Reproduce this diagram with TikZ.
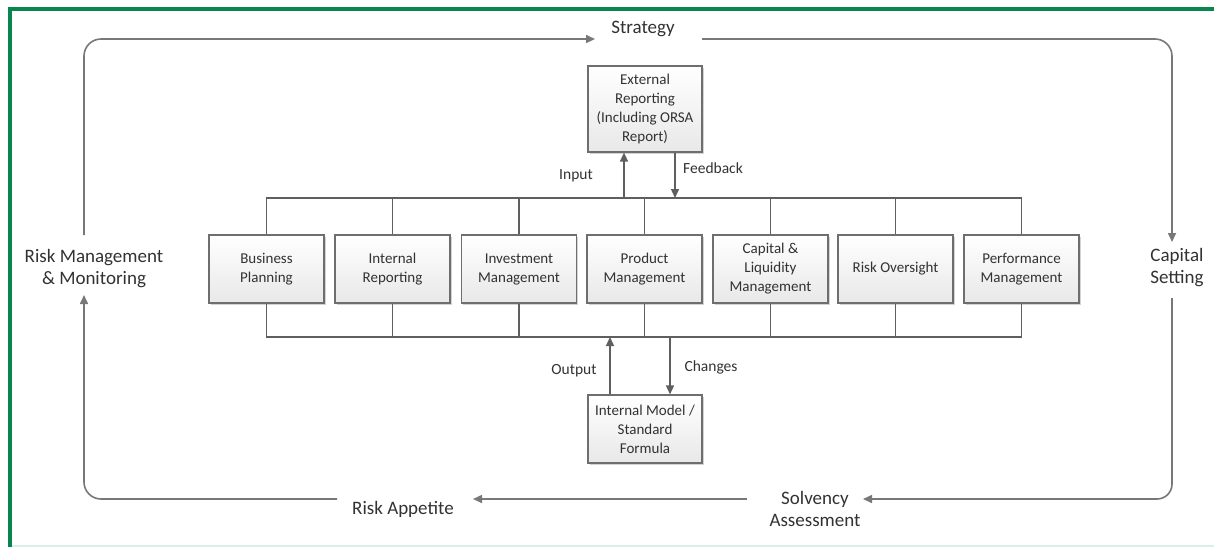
\documentclass[tikz,border=0pt]{standalone}
\usepackage{fontspec}
\setmainfont{Carlito}
\usetikzlibrary{arrows.meta,shadows}
\definecolor{frameg}{RGB}{8,134,78}
\definecolor{botc}{RGB}{214,240,234}
\definecolor{linec}{RGB}{95,95,95}
\definecolor{loopc}{RGB}{120,120,120}
\definecolor{txtc}{RGB}{50,50,50}
\definecolor{boxb}{RGB}{110,110,110}
\tikzset{
 fbox/.style={draw=boxb, line width=1.2pt, top color=white, bottom color=gray!18,
   minimum width=115pt, minimum height=68pt, align=center, inner sep=2pt, text=txtc,
   font=\fontsize{15}{19}\selectfont,
   drop shadow={shadow xshift=1.5pt, shadow yshift=-1.5pt, opacity=0.35}},
 outl/.style={align=center, inner sep=0pt, text=txtc, font=\fontsize{19}{22}\selectfont},
 lab/.style={inner sep=0pt, text=txtc, font=\fontsize{15.5}{19}\selectfont},
 bus/.style={draw=linec, line width=1.4pt},
 arr/.style={bus, -{Triangle[length=9pt,width=8pt]}},
 loopl/.style={draw=loopc, line width=1.6pt, rounded corners=17pt},
 looparr/.style={loopl, -{Triangle[length=9pt,width=8pt]}},
}
\begin{document}
\begin{tikzpicture}[x=1pt,y=-1pt]
\useasboundingbox (0,0) rectangle (1214,547);
% frame
\draw[frameg, line width=4pt] (10,547) -- (10,9) -- (1214,9);
\draw[botc, line width=1.5pt] (12,546) -- (1214,546);
% boxes
\node[fbox] (b1) at (266.5,269) {Business\\Planning};
\node[fbox] (b2) at (392.5,269) {Internal\\Reporting};
\node[fbox] (b3) at (519,269) {Investment\\Management};
\node[fbox] (b4) at (644.5,269) {Product\\Management};
\node[fbox] (b5) at (770.5,269) {Capital \&\\Liquidity\\Management};
\node[fbox] (b6) at (895.5,269) {Risk Oversight};
\node[fbox] (b7) at (1021.5,269) {Performance\\Management};
\node[fbox, minimum width=114pt, minimum height=86pt] (ext) at (645,109) {External\\Reporting\\(Including ORSA\\Report)};
\node[fbox, minimum width=114pt] (im) at (645,429) {Internal Model /\\Standard\\Formula};
% buses
\coordinate (tb) at (0,198);
\coordinate (bb) at (0,337);
\draw[bus] (b1.north) -- (b1.north |- tb) -- (b7.north |- tb) -- (b7.north);
\draw[bus] (b1.south) -- (b1.south |- bb) -- (b7.south |- bb) -- (b7.south);
\foreach \k in {2,...,6}{
  \draw[bus] (b\k.north) -- (b\k.north |- tb);
  \draw[bus] (b\k.south) -- (b\k.south |- bb);
}
% input / feedback / output / changes
\coordinate (inx) at (624,198);
\coordinate (fbx) at (675,198);
\coordinate (outx) at (610,337);
\coordinate (chx) at (670,337);
\draw[arr] (inx) -- (inx |- ext.south);
\draw[arr] (fbx |- ext.south) -- (fbx);
\draw[arr] (outx |- im.north) -- (outx);
\draw[arr] (chx) -- (chx |- im.north);
\node[lab] (inl) at (576,176) {Input};
\node[lab] (fbl) at (713,168) {Feedback};
\node[lab] (outl) at (574,371) {Output};
\node[lab] (chl) at (711,367) {Changes};
% outer labels
\node[outl] (strat) at (643,29) {Strategy};
\node[outl] (cap) at (1177,268) {Capital\\Setting};
\node[outl] (solv) at (815,509) {Solvency\\Assessment};
\node[outl] (rapp) at (403,509) {Risk Appetite};
\node[outl] (rmm) at (94,269) {Risk Management\\\& Monitoring};
% outer loop
\coordinate (rOut) at (84,235);
\coordinate (sIn) at (595,39);
\coordinate (sOut) at (702,39);
\coordinate (cIn) at (1172,242);
\coordinate (cOut) at (1172,298);
\coordinate (vIn) at (863,499);
\coordinate (vOut) at (747,499);
\coordinate (aIn) at (473,499);
\coordinate (aOut) at (337,499);
\coordinate (rIn) at (84,295);
\draw[looparr] (rOut) |- (sIn);
\draw[looparr] (sOut) -| (cIn);
\draw[looparr, rounded corners=15pt] (cOut) |- (vIn);
\draw[looparr] (vOut) -- (aIn);
\draw[looparr] (aOut) -| (rIn);
\end{tikzpicture}
\end{document}
